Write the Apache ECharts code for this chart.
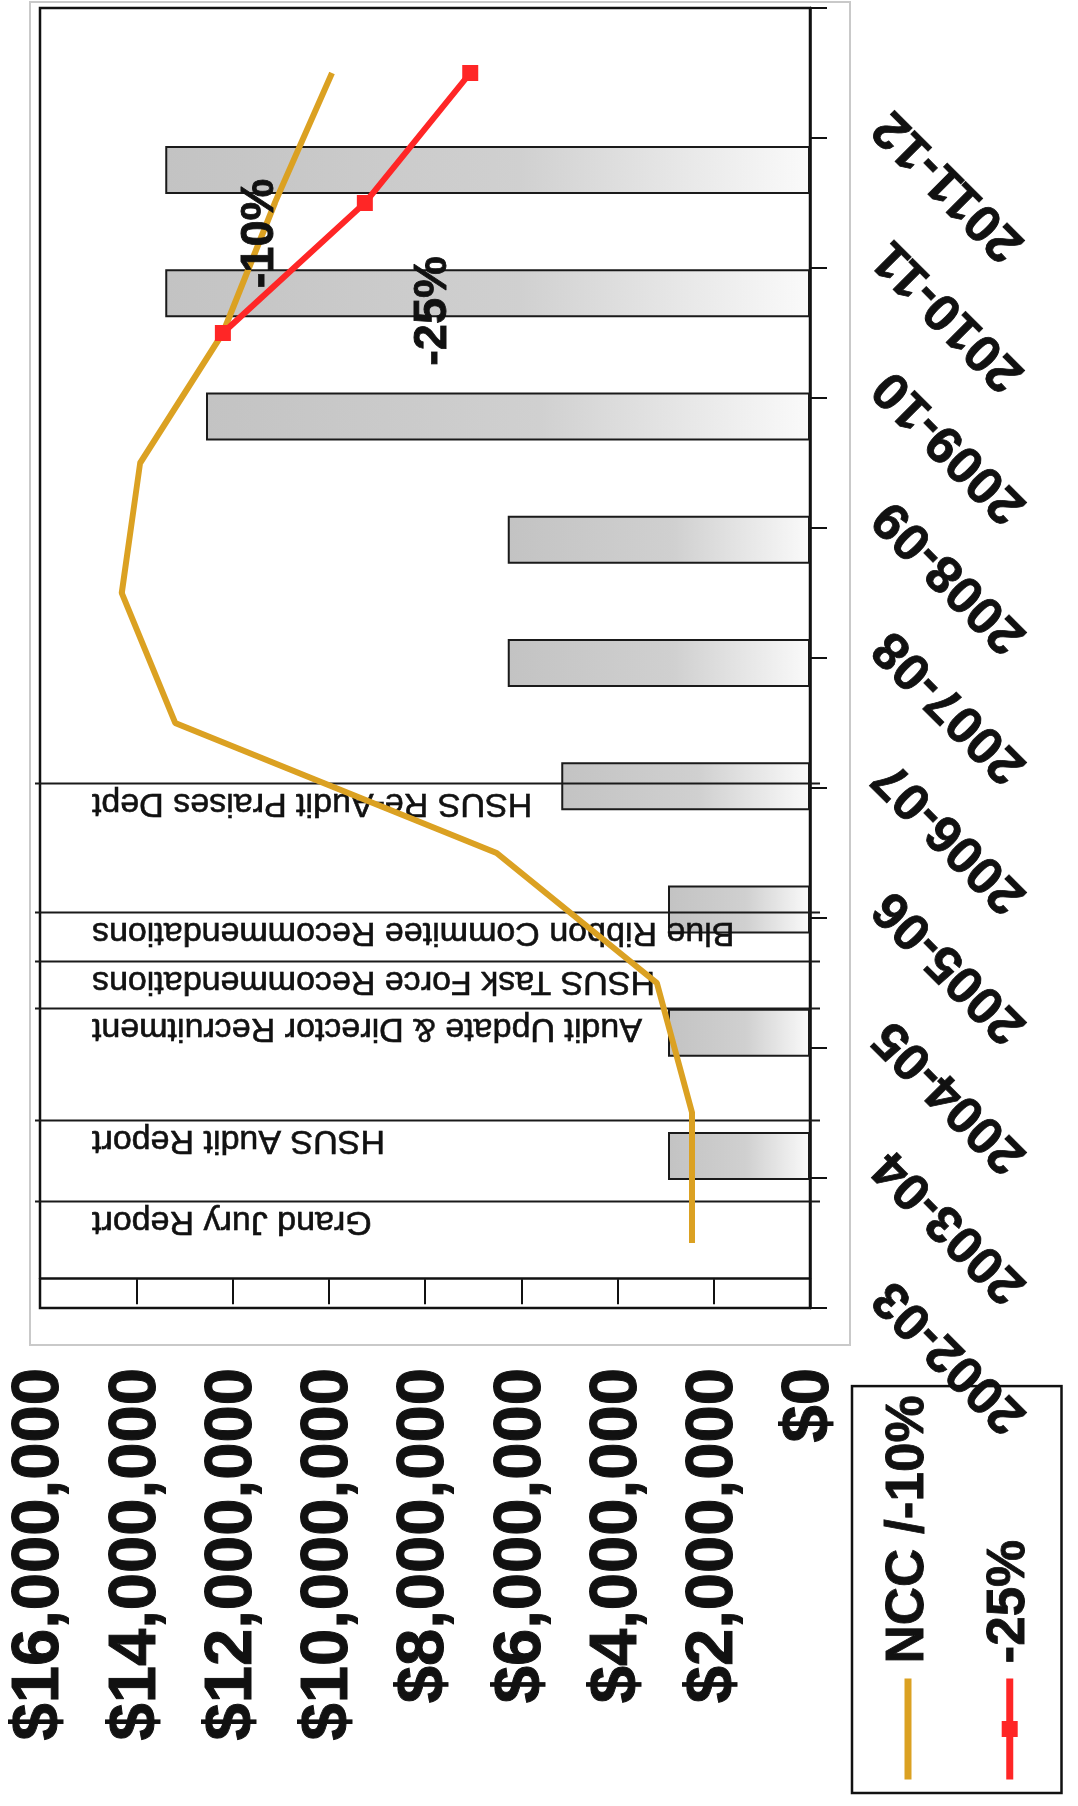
<!DOCTYPE html>
<html>
<head>
<meta charset="utf-8">
<script src="https://cdn.jsdelivr.net/npm/echarts@6/dist/echarts.min.js"></script>
<style>
  html, body { margin: 0; padding: 0; background: #fff; overflow: hidden; width: 1078px; height: 1806px; }
  /* The chart is laid out landscape and turned a quarter turn counter-clockwise onto the portrait page. */
  #chart {
    position: absolute; left: 0; top: 0;
    width: 1806px; height: 1078px;
    transform-origin: 0 0;
    transform: translate(0, 1806px) rotate(-90deg);
  }
</style>
</head>
<body>
<div id="chart"></div>
<script>
// ---- data ----
const years = ['2002-03', '2003-04', '2004-05', '2005-06', '2006-07',
               '2007-08', '2008-09', '2009-10', '2010-11', '2011-12'];

const valueTickLabels = ['$0', '$2,000,000', '$4,000,000', '$6,000,000', '$8,000,000',
                         '$10,000,000', '$12,000,000', '$14,000,000', '$16,000,000'];

// NCC trend, then the -10% projection
const nccSeries = [2450000, 2450000, 3180000, 6510000, 13190000,
                   14300000, 13920000, 12200000, 11120000, 9930000];

// -25% projection from 2009-10
const cut25Series = [null, null, null, null, null, null, null, 12200000, 9250000, 7060000];

// yearly bars (none for 2002-03)
const fundingBars = [null, 2950000, 2950000, 2950000, 5170000,
                     6280000, 6280000, 12550000, 13400000, 13400000];

// dated events, positioned in fiscal-year slots of the bar axis
const eventNames = ['Grand Jury Report', 'HSUS Audit Report', 'Audit Update & Director Recruitment',
                    'HSUS Task Force Recommendations', 'Blue Ribbon Commitee Recommendations',
                    'HSUS Re-Audit Praises Dept'];
const eventSlots = [0.63, 1.28, 2.19, 2.57, 2.97, 4.02];

// free-standing notes on the projections
const noteTexts = ['-10%', '-25%'];
const noteSlots = [8.485, 7.856];
const noteValues = [11420000, 7840000];

const seriesNames = ['NCC /-10%', '-25%'];

// ---- chart ----
const FONT = '"Liberation Sans", Arial, Helvetica, sans-serif';
const INK = '#111';
const chart = echarts.init(document.getElementById('chart'), null, { renderer: 'canvas', width: 1806, height: 1078 });

const barData = [];
fundingBars.forEach((v, i) => { if (v != null) barData.push([i, v]); });

chart.setOption({
  animation: false,
  backgroundColor: '#fff',
  textStyle: { fontFamily: FONT },
  graphic: [{
    type: 'rect', silent: true, z: -10,
    shape: { x: 461, y: 30, width: 1343, height: 820 },
    style: { fill: 'none', stroke: '#c9c9c9', lineWidth: 2 }
  }],
  grid: {
    left: 498, right: 8, top: 40, bottom: 268,
    show: true, borderColor: INK, borderWidth: 2.5, backgroundColor: 'transparent',
    outerBoundsMode: 'none', containLabel: false
  },
  legend: {
    orient: 'vertical', left: 13, top: 852,
    padding: [29, 9, 25, 10],
    itemWidth: 101, itemHeight: 20, itemGap: 48,
    borderColor: INK, borderWidth: 2.5,
    selectedMode: false,
    lineStyle: { width: 7 },
    textStyle: {
      fontFamily: FONT, fontSize: 53, fontWeight: 'bold', color: INK, padding: [0, 0, 0, 10],
      textBorderColor: INK, textBorderWidth: 0.8
    },
    data: [
      { name: seriesNames[0], itemStyle: { opacity: 0 } },
      { name: seriesNames[1] }
    ]
  },
  xAxis: [{
    type: 'category', data: years, position: 'bottom', boundaryGap: true,
    axisLine: { show: true, lineStyle: { color: INK, width: 2.5 } },
    axisTick: { show: true, length: 17, alignWithLabel: false, lineStyle: { color: INK, width: 2 } },
    splitLine: { show: false },
    axisLabel: {
      interval: 0, rotate: 45, margin: 27, padding: [0, 65, 0, 0],
      fontFamily: FONT, fontSize: 52, fontWeight: 'bold', color: INK,
      textBorderColor: INK, textBorderWidth: 0.8
    }
  }, {
    // slot axis carrying the bars and the dated events
    type: 'value', show: false, min: -0.2333, max: 10.3144
  }],
  yAxis: [{
    type: 'value', min: 0, max: 16000000, interval: 2000000, position: 'left',
    axisLine: { show: true, lineStyle: { color: INK, width: 2.5 } },
    axisTick: { show: true, length: 25, lineStyle: { color: INK, width: 2 } },
    splitLine: { show: false },
    axisLabel: {
      margin: 60, fontFamily: FONT, fontSize: 67, fontWeight: 'bold', color: INK,
      textBorderColor: INK, textBorderWidth: 1,
      formatter: v => valueTickLabels[Math.round(v / 2000000)]
    }
  }],
  series: [{
    type: 'bar', name: 'Funding', xAxisIndex: 1, yAxisIndex: 0, z: 2, silent: true,
    barWidth: 48,
    data: barData,
    itemStyle: {
      color: new echarts.graphic.LinearGradient(0, 0, 0, 1, [
        { offset: 0, color: '#c3c3c3' },
        { offset: 0.55, color: '#d0d0d0' },
        { offset: 1, color: '#fafafa' }
      ]),
      borderColor: '#1a1a1a', borderWidth: 2
    }
  }, {
    type: 'custom', name: 'Events', xAxisIndex: 1, yAxisIndex: 0, z: 3, silent: true,
    data: eventSlots.map(s => [s, 0]),
    renderItem(params, api) {
      const base = api.coord([api.value(0), 0]);
      const top = api.coord([api.value(0), 16000000]);
      const x = Math.round(base[0]) + 0.5;
      return {
        type: 'group',
        children: [{
          type: 'line',
          shape: { x1: x, y1: top[1] - 5, x2: x, y2: base[1] + 10 },
          style: { stroke: '#1a1a1a', lineWidth: 2 }
        }, {
          type: 'text', x: x - 3, y: top[1] + 52, rotation: Math.PI / 2,
          style: {
            text: eventNames[params.dataIndex], align: 'right', verticalAlign: 'bottom',
            fill: INK, stroke: INK, lineWidth: 0.6, font: '34px ' + FONT
          }
        }]
      };
    }
  }, {
    type: 'line', name: seriesNames[0], xAxisIndex: 0, yAxisIndex: 0, z: 5, silent: true,
    data: nccSeries, symbol: 'none',
    color: '#DBA122',
    lineStyle: { color: '#DBA122', width: 6 }
  }, {
    type: 'line', name: seriesNames[1], xAxisIndex: 0, yAxisIndex: 0, z: 6, silent: true,
    data: cut25Series, symbol: 'rect', symbolSize: 16, showSymbol: true, connectNulls: false,
    color: '#FF2626',
    itemStyle: { color: '#FF2626' },
    lineStyle: { color: '#FF2626', width: 6 }
  }, {
    type: 'custom', name: 'Notes', xAxisIndex: 1, yAxisIndex: 0, z: 7, silent: true,
    data: noteSlots.map((s, i) => [s, noteValues[i]]),
    renderItem(params, api) {
      const p = api.coord([api.value(0), api.value(1)]);
      return {
        type: 'text', x: p[0], y: p[1],
        style: {
          text: noteTexts[params.dataIndex], align: 'center', verticalAlign: 'middle',
          fill: INK, stroke: INK, lineWidth: 0.8, font: 'bold 47px ' + FONT
        }
      };
    }
  }]
});
</script>
</body>
</html>
